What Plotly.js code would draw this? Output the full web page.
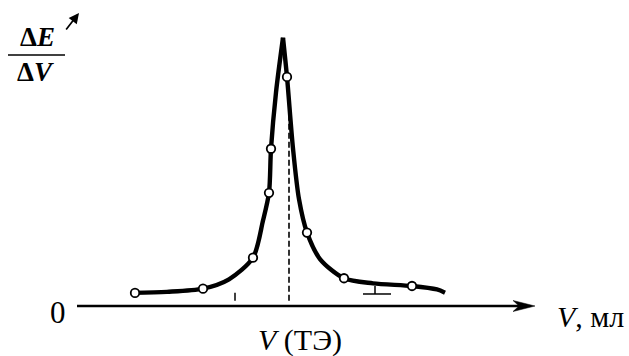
<!DOCTYPE html>
<html>
<head>
<meta charset="utf-8">
<script src="https://cdn.plot.ly/plotly-3.0.1.min.js"></script>
<style>html,body{margin:0;padding:0;background:#fff;}#chart{width:629px;height:356px;}</style>
</head>
<body>
<div id="chart"></div>
<script>
// Measured points (V, ml ; ΔE/ΔV, arbitrary units)
const pointV = [2.9, 6.3, 8.8, 9.6, 9.7, 10.5, 11.5, 13.35, 16.75];
const pointY = [0.49, 0.65, 1.81, 4.24, 5.89, 8.58, 2.75, 1.04, 0.75];

// Smoothed curve, left branch (rising) and right branch (falling)
const leftV = [2.8, 4.5, 6.3, 7.6, 8.8, 9.3, 9.6, 9.7, 9.95, 10.3];
const leftY = [0.49, 0.53, 0.65, 1.0, 1.81, 3.2, 4.24, 5.89, 8.0, 10.05];
const rightV = [10.3, 10.5, 10.8, 11.1, 11.5, 12.15, 13.35, 14.8, 16.75, 18.0, 18.4];
const rightY = [10.05, 8.58, 5.9, 4.0, 2.75, 1.76, 1.04, 0.85, 0.75, 0.62, 0.5];

// Equivalence point and dashed marker extent
const vEquiv = 10.6;
const dashY = [0.2, 8.2];

// Axis extent
const axisV = [0, 22.9];

// Text
const yLabelTop = "<b>Δ<i>E</i></b>";
const yLabelBottom = "<b>Δ<i>V</i></b>";
const xLabel = "<i>V</i>, мл";
const equivLabel = "<i>V</i> (ТЭ)";
const zeroLabel = "0";

const serif = "'Liberation Serif', 'Times New Roman', serif";
const W = 629, H = 356;

const lineStyle = {color: "#000", width: 4.4, shape: "spline", smoothing: 0.8};
const traces = [
  {x: leftV, y: leftY, mode: "lines", line: lineStyle, hoverinfo: "skip"},
  {x: rightV, y: rightY, mode: "lines", line: lineStyle, hoverinfo: "skip"},
  {x: pointV, y: pointY, mode: "markers",
   marker: {size: 8.5, color: "#fff", line: {color: "#000", width: 1.8}}, hoverinfo: "skip"}
];

const layout = {
  width: W, height: H,
  margin: {l: 0, r: 0, t: 0, b: 0},
  paper_bgcolor: "#fff", plot_bgcolor: "#fff",
  showlegend: false,
  font: {family: serif, color: "#000"},
  xaxis: {range: [-77/20, (W-77)/20], visible: false, fixedrange: true},
  yaxis: {range: [(306-H)/26.7, 306/26.7], visible: false, fixedrange: true},
  shapes: [
    // dashed equivalence line
    {type: "line", xref: "x", yref: "y", x0: vEquiv, x1: vEquiv, y0: dashY[0], y1: dashY[1],
     line: {color: "#000", width: 1.6, dash: "6px,3px"}},
    // x axis line
    {type: "line", xref: "x", yref: "y", x0: axisV[0], x1: axisV[1] - 0.6, y0: 0, y1: 0,
     line: {color: "#000", width: 2.6}},
    // arrowhead
    {type: "path", xref: "x", yref: "y", xsizemode: "pixel", ysizemode: "pixel",
     xanchor: axisV[1], yanchor: 0,
     path: "M0,0 L-22,5.5 L-16,0 L-22,-5.5 Z", fillcolor: "#000", line: {color: "#000", width: 0.5}},
    // fraction bar
    {type: "line", xref: "paper", yref: "paper", x0: 8/W, x1: 65/W, y0: 1-55/H, y1: 1-55/H,
     line: {color: "#000", width: 1.6}},
    // small tick artifacts near the baseline
    {type: "line", xref: "x", yref: "y", x0: 7.9, x1: 7.9, y0: 0.2, y1: 0.5, line: {color: "#000", width: 1.5}},
    {type: "line", xref: "x", yref: "y", x0: 14.9, x1: 14.9, y0: 0.45, y1: 0.75, line: {color: "#000", width: 1.5}},
    {type: "line", xref: "x", yref: "y", x0: 14.3, x1: 15.7, y0: 0.45, y1: 0.45, line: {color: "#000", width: 1.5}}
  ],
  annotations: [
    {xref: "paper", yref: "paper", x: 37/W, y: 1-37/H, text: yLabelTop, showarrow: false,
     font: {family: serif, size: 27, color: "#000"}, xanchor: "center", yanchor: "middle"},
    {xref: "paper", yref: "paper", x: 35/W, y: 1-72/H, text: yLabelBottom, showarrow: false,
     font: {family: serif, size: 27, color: "#000"}, xanchor: "center", yanchor: "middle"},
    // small arrow stroke near the label
    {xref: "paper", yref: "paper", x: 79/W, y: 1-13/H, ax: 65/W, ay: 1-31/H,
     axref: "paper", ayref: "paper", text: "", showarrow: true,
     arrowhead: 2, arrowsize: 1.2, arrowwidth: 1.7, arrowcolor: "#000"},
    {xref: "paper", yref: "paper", x: 58/W, y: 1-312/H, text: zeroLabel, showarrow: false,
     font: {family: serif, size: 31, color: "#000"}, xanchor: "center", yanchor: "middle"},
    {xref: "paper", yref: "paper", x: 555/W, y: 1-316/H, text: xLabel, showarrow: false,
     font: {family: serif, size: 30, color: "#000"}, xanchor: "left", yanchor: "middle"},
    {xref: "paper", yref: "paper", x: 300/W, y: 1-340/H, text: equivLabel, showarrow: false,
     font: {family: serif, size: 30, color: "#000"}, xanchor: "center", yanchor: "middle"}
  ]
};

Plotly.newPlot("chart", traces, layout, {staticPlot: true, displayModeBar: false});
</script>
</body>
</html>
